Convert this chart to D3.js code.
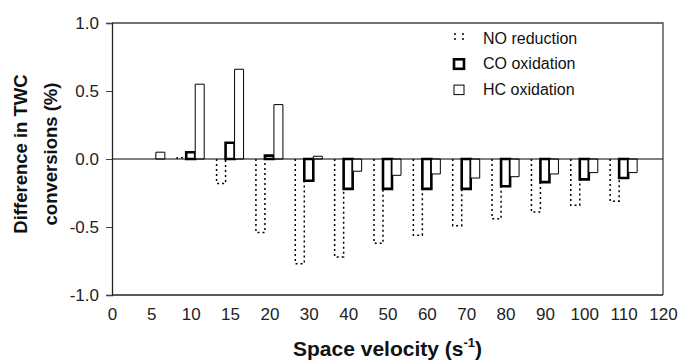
<!DOCTYPE html>
<html>
<head>
<meta charset="utf-8">
<script src="https://cdn.jsdelivr.net/npm/d3@7"></script>
<style>
  body { margin: 0; background: #fff; }
  svg { display: block; font-family: "Liberation Sans", Arial, sans-serif; }
</style>
</head>
<body>
<div id="chart"></div>
<script>
// Category labels on the x axis (evenly spaced, not linear)
const xLabels = ['0', '5', '10', '15', '20', '30', '40', '50', '60', '70', '80', '90', '100', '110', '120'];
// Space velocities that have bars
const velocities = ['5', '10', '15', '20', '30', '40', '50', '60', '70', '80', '90', '100', '110'];
// Differences in conversion (%)
const noReduction = [0, 0.01, -0.18, -0.54, -0.77, -0.72, -0.62, -0.56, -0.49, -0.44, -0.39, -0.34, -0.31];
const coOxidation = [0, 0.05, 0.12, 0.025, -0.16, -0.22, -0.22, -0.22, -0.22, -0.20, -0.17, -0.15, -0.14];
const hcOxidation = [0.05, 0.55, 0.66, 0.40, 0.02, -0.09, -0.12, -0.11, -0.14, -0.13, -0.11, -0.10, -0.10];
const yTicks = [-1, -0.5, 0, 0.5, 1];

const width = 681, height = 361;
const margin = { top: 23, right: 18, bottom: 66, left: 112 };

const svg = d3.select('#chart').append('svg')
    .attr('width', width)
    .attr('height', height);

const x = d3.scalePoint()
    .domain(xLabels)
    .range([margin.left, width - margin.right]);

const y = d3.scaleLinear()
    .domain([-1, 1])
    .range([height - margin.bottom, margin.top]);

const barW = 9;

// frame: top and right borders
svg.append('path')
    .attr('d', `M${margin.left},${y(1)}H${x('120')}V${y(-1)}`)
    .attr('fill', 'none')
    .attr('stroke', '#444')
    .attr('stroke-width', 1.3);

// bars
const series = [
    { key: 'NO', values: noReduction, offset: -barW, stroke: 1.5, dash: '2,3' },
    { key: 'CO', values: coOxidation, offset: 0, stroke: 2.6, dash: null },
    { key: 'HC', values: hcOxidation, offset: barW, stroke: 1, dash: null }
];

series.forEach(s => {
    svg.append('g')
        .selectAll('path')
        .data(velocities.map((v, i) => ({ v, value: s.values[i] })).filter(d => d.value !== 0))
        .enter()
        .append('path')
        .attr('d', d => {
            const x0 = x(d.v) + s.offset - barW / 2;
            const x1 = x0 + barW;
            const y0 = y(0), y1 = y(d.value);
            if (s.dash) return `M${x0},${y0}V${y1}H${x1}V${y0}`;
            return `M${x0},${y0}V${y1}H${x1}V${y0}Z`;
        })
        .attr('fill', s.dash ? 'none' : '#fff')
        .attr('stroke', '#000')
        .attr('stroke-width', s.stroke)
        .attr('stroke-dasharray', s.dash);
});

// zero line
svg.append('line')
    .attr('x1', margin.left)
    .attr('x2', x('120'))
    .attr('y1', y(0))
    .attr('y2', y(0))
    .attr('stroke', '#000')
    .attr('stroke-width', 1);

// axes
const fmt = d => d3.format('.1f')(d).replace('\u2212', '-');
const yAxis = svg.append('g')
    .attr('transform', `translate(${margin.left},0)`)
    .call(d3.axisLeft(y).tickValues(yTicks).tickFormat(fmt).tickSize(6).tickPadding(7));

const xAxis = svg.append('g')
    .attr('transform', `translate(0,${y(-1)})`)
    .call(d3.axisBottom(x).tickSize(0).tickPadding(13));

[yAxis, xAxis].forEach(a => {
    a.select('.domain').attr('stroke', '#222').attr('stroke-width', 1.3);
    a.selectAll('.tick line').attr('stroke', '#444');
    a.selectAll('text').attr('font-size', 17).attr('fill', '#222')
        .attr('font-family', '"Liberation Sans", Arial, sans-serif');
});
xAxis.select('.domain').attr('d', `M${margin.left},0H${x('120')}`);

// axis titles
const xTitle = svg.append('text')
    .attr('x', (margin.left + x('120')) / 2)
    .attr('y', 356)
    .attr('text-anchor', 'middle')
    .attr('font-size', 21)
    .attr('font-weight', 'bold')
    .attr('fill', '#111');
xTitle.append('tspan').text('Space velocity (s');
xTitle.append('tspan').attr('font-size', 13).attr('dy', -9).text('-1');
xTitle.append('tspan').attr('dy', 9).text(')');

const yTitle = svg.append('g')
    .attr('transform', 'translate(0,154) rotate(-90)');
['Difference in TWC', 'conversions (%)'].forEach((t, i) => {
    yTitle.append('text')
        .attr('x', 0)
        .attr('y', 21 + i * 30)
        .attr('dy', '0.35em')
        .attr('text-anchor', 'middle')
        .attr('font-size', 18.5)
        .attr('font-weight', 'bold')
        .attr('fill', '#111')
        .text(t);
});

// legend
const legendItems = ['NO reduction', 'CO oxidation', 'HC oxidation'];
const legend = svg.append('g').attr('transform', 'translate(453,38)');
legendItems.forEach((label, i) => {
    const g = legend.append('g').attr('transform', `translate(0,${i * 25.8})`);
    const s = series[i];
    if (s.dash) {
        g.append('path')
            .attr('d', 'M2,-5V5M10,-5V5')
            .attr('stroke', '#000')
            .attr('stroke-width', 1.5)
            .attr('stroke-dasharray', '2,3');
    } else {
        g.append('rect')
            .attr('x', 1).attr('y', -4.5)
            .attr('width', 10).attr('height', 9.5)
            .attr('fill', '#fff')
            .attr('stroke', '#000')
            .attr('stroke-width', s.stroke);
    }
    g.append('text')
        .attr('x', 30)
        .attr('dy', '0.35em')
        .attr('font-size', 16)
        .attr('fill', '#111')
        .text(label);
});
</script>
</body>
</html>
